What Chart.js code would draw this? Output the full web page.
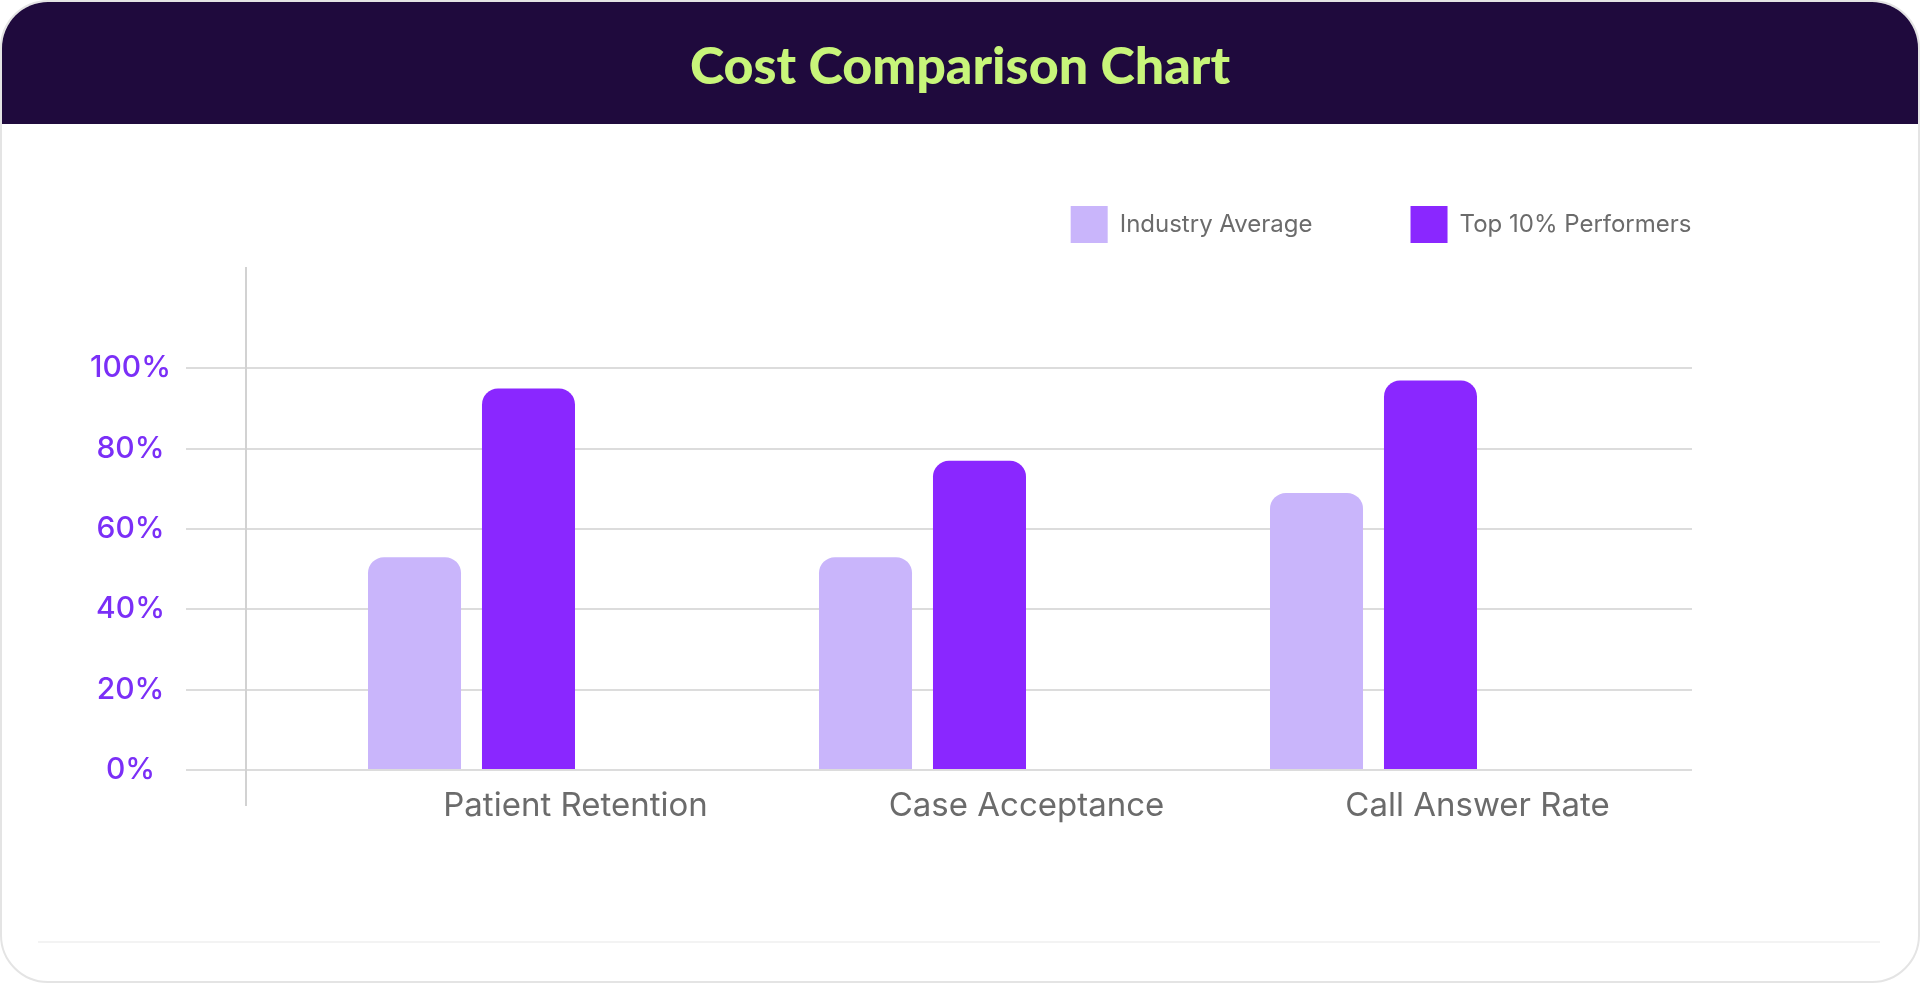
<html lang="en">
<head>
<meta charset="utf-8">
<title>Cost Comparison Chart</title>
<script src="https://cdn.jsdelivr.net/npm/chart.js@4.4.1/dist/chart.umd.min.js"></script>
<style>
  html, body { margin: 0; padding: 0; background: #ffffff; }
  body { width: 1920px; height: 983px; overflow: hidden; position: relative; font-family: Inter, "Noto Sans", sans-serif; }
  #card {
    position: absolute; left: 0; top: 0; width: 1920px; height: 983px;
    box-sizing: border-box; border: 2px solid #e4e4e4; border-radius: 48px;
    overflow: hidden; background: #ffffff;
  }
  #header {
    position: absolute; left: 0; top: 0; width: 100%; height: 122px;
    background: #1f0a3d;
  }
  #header h1 {
    margin: 0; text-align: center; line-height: 124px;
    font-family: Lato, "Open Sans", sans-serif; font-weight: 900; font-size: 52px;
    color: #c8f57a;
  }
  #footerLine {
    position: absolute; left: 36px; right: 38px; top: 939px; height: 0;
    border-top: 2px solid #f3f3f3;
  }
  #chartBox { position: absolute; left: 0; top: 106px; width: 1920px; height: 757px; }
</style>
</head>
<body>
<div id="card">
  <div id="header"><h1>Cost Comparison Chart</h1></div>
  <div id="footerLine"></div>
  <div id="chartBox"><canvas id="costChart"></canvas></div>
</div>

<script>
// chart data
var categories = ['Patient Retention', 'Case Acceptance', 'Call Answer Rate'];
var industryAverage = [53, 53, 69];
var top10Performers = [95, 77, 97];
var yTicks = [0, 20, 40, 60, 80, 100];

var gridColor = '#dcdcdc';
var tickPurple = '#7b2ff7';
var labelGray = '#6b6b6b';

// give the legend a bit more room below it
var legendSpacer = {
  id: 'legendSpacer',
  beforeInit: function (chart) {
    var origFit = chart.legend.fit;
    chart.legend.fit = function () {
      origFit.bind(chart.legend)();
      this.height += 15;
    };
  }
};

var fixTicks = function (scale) {
  scale.ticks = yTicks.map(function (v) { return { value: v }; });
};

var ctx = document.getElementById('costChart');
var costChart = new Chart(ctx, {
  type: 'bar',
  data: {
    labels: categories,
    datasets: [{
      label: 'Industry Average',
      data: industryAverage,
      backgroundColor: '#c9b5fb',
      borderRadius: { topLeft: 16, topRight: 16, bottomLeft: 0, bottomRight: 0 },
      borderSkipped: false,
      barPercentage: 0.816,
      categoryPercentage: 0.5055
    }, {
      label: 'Top 10% Performers',
      data: top10Performers,
      backgroundColor: '#8a27ff',
      borderRadius: { topLeft: 16, topRight: 16, bottomLeft: 0, bottomRight: 0 },
      borderSkipped: false,
      barPercentage: 0.816,
      categoryPercentage: 0.5055
    }]
  },
  options: {
    responsive: true,
    maintainAspectRatio: false,
    animation: false,
    devicePixelRatio: 1,
    layout: { padding: { left: 0, right: 132.5, top: 0, bottom: 0 } },
    plugins: {
      legend: {
        position: 'top',
        align: 'end',
        labels: {
          boxWidth: 37,
          boxHeight: 37,
          padding: 98,
          color: labelGray,
          font: { family: 'Inter', size: 24 }
        }
      },
      tooltip: { enabled: false },
      title: { display: false }
    },
    scales: {
      x: {
        type: 'category',
        grid: { display: false },
        border: { display: false },
        ticks: {
          color: labelGray,
          font: { family: 'Inter', size: 33 },
          mirror: true,
          padding: -21,
          labelOffset: 104,
          maxRotation: 0
        },
        afterFit: function (scale) { scale.height = 60; }
      },
      y: {
        position: 'left',
        min: -8.7,
        max: 125,
        afterBuildTicks: fixTicks,
        grid: { color: gridColor, lineWidth: 2, tickLength: 60, drawTicks: true },
        border: { display: true, color: '#d2d2d2', width: 2 },
        ticks: {
          color: tickPurple,
          font: { family: 'Inter', size: 30, weight: 500 },
          padding: 15,
          crossAlign: 'center',
          callback: function (v) { return v + '%'; }
        },
        afterFit: function (scale) { scale.width = 244; }
      },
      y2: {
        position: 'right',
        min: -8.7,
        max: 125,
        afterBuildTicks: fixTicks,
        grid: { color: gridColor, lineWidth: 2, tickLength: 93, drawTicks: true, drawOnChartArea: false },
        border: { display: false },
        ticks: { display: false },
        afterFit: function (scale) { scale.width = 190.5; }
      }
    }
  },
  plugins: [legendSpacer]
});
</script>
</body>
</html>
